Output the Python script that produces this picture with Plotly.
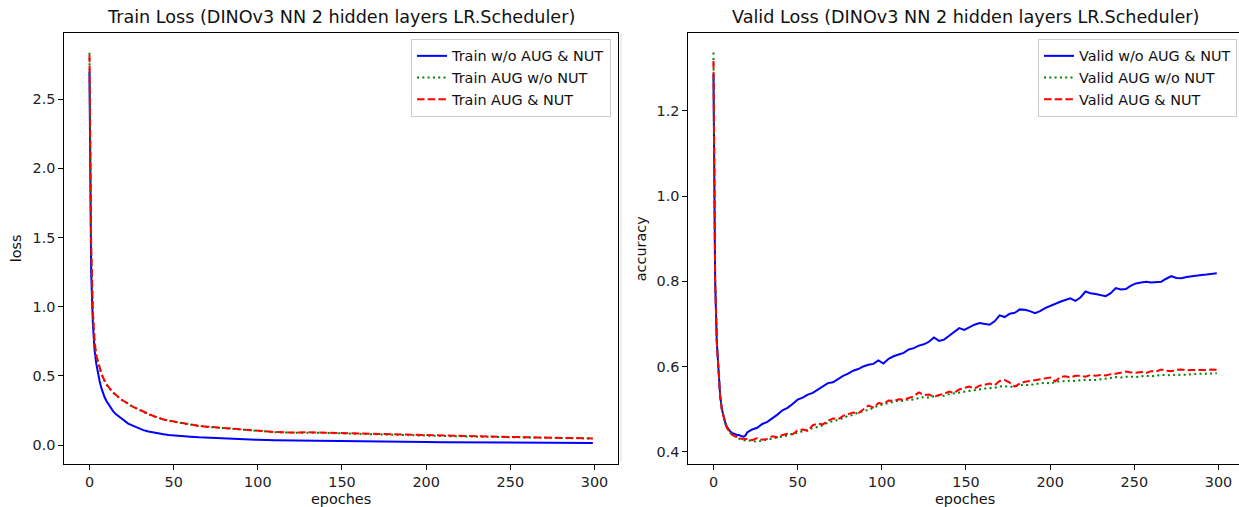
import plotly.graph_objects as go

# ---------------- data ----------------
train_epochs = [0, 1, 2, 3, 4, 5, 6, 7, 8, 9, 10,
                12, 14, 16, 18, 20,
                23, 26, 29, 32, 35, 38, 41, 44, 47, 50,
                55, 60, 65, 70, 75, 80, 85, 90, 95, 100,
                110, 120, 130, 140, 150, 160, 170, 180, 190, 200,
                210, 220, 230, 240, 250, 260, 270, 280, 290, 299]

train_noaug = [2.70, 1.25, 0.88, 0.69, 0.59, 0.52, 0.465, 0.415, 0.375, 0.345, 0.32,
               0.278, 0.245, 0.22, 0.20, 0.18,
               0.155, 0.138, 0.122, 0.108, 0.098, 0.090, 0.084, 0.078, 0.073, 0.069,
               0.064, 0.060, 0.056, 0.053, 0.050, 0.047, 0.045, 0.042, 0.040, 0.038,
               0.035, 0.033, 0.031, 0.029, 0.028, 0.026, 0.025, 0.024, 0.023, 0.022,
               0.021, 0.020, 0.019, 0.018, 0.018, 0.017, 0.016, 0.016, 0.015, 0.015]

train_aug_nonut = [2.836, 1.44, 0.96, 0.755, 0.648, 0.598, 0.558, 0.518, 0.488, 0.462, 0.438,
                   0.408, 0.378, 0.357, 0.338, 0.318,
                   0.298, 0.273, 0.258, 0.238, 0.223, 0.208, 0.194, 0.184, 0.176, 0.168,
                   0.158, 0.148, 0.137, 0.131, 0.127, 0.122, 0.116, 0.109, 0.103, 0.099,
                   0.093, 0.089, 0.091, 0.088, 0.084, 0.080, 0.077, 0.074, 0.071, 0.068,
                   0.065, 0.063, 0.061, 0.059, 0.057, 0.055, 0.053, 0.051, 0.049, 0.047]

train_aug_nut = [2.82, 1.45, 0.97, 0.76, 0.65, 0.60, 0.56, 0.52, 0.49, 0.465, 0.44,
                 0.41, 0.38, 0.36, 0.34, 0.32,
                 0.30, 0.275, 0.26, 0.24, 0.225, 0.21, 0.195, 0.185, 0.177, 0.170,
                 0.160, 0.150, 0.138, 0.133, 0.128, 0.124, 0.118, 0.110, 0.104, 0.100,
                 0.094, 0.090, 0.093, 0.089, 0.086, 0.081, 0.078, 0.075, 0.072, 0.069,
                 0.066, 0.064, 0.062, 0.060, 0.058, 0.056, 0.054, 0.052, 0.050, 0.048]

valid_epochs = list(range(0, 21)) + list(range(23, 300, 3))

valid_noaug = [1.286, 0.80, 0.655, 0.575, 0.530, 0.500, 0.482, 0.468, 0.458, 0.452, 0.447,
               0.444, 0.442, 0.440, 0.439, 0.439, 0.437, 0.436, 0.435, 0.438, 0.445,
               0.452, 0.456, 0.465, 0.470, 0.478, 0.487, 0.497, 0.503, 0.512, 0.522,
               0.527, 0.534, 0.538, 0.545, 0.553, 0.561, 0.563, 0.571, 0.578, 0.583,
               0.590, 0.594, 0.600, 0.604, 0.606, 0.614, 0.607, 0.618, 0.624, 0.628,
               0.632, 0.640, 0.643, 0.649, 0.652, 0.658, 0.668, 0.660, 0.663, 0.672,
               0.680, 0.690, 0.686, 0.692, 0.698, 0.702, 0.700, 0.698, 0.706, 0.720,
               0.716, 0.724, 0.726, 0.734, 0.733, 0.730, 0.725, 0.730, 0.737, 0.742,
               0.748, 0.752, 0.756, 0.760, 0.754, 0.762, 0.776, 0.772, 0.770, 0.768,
               0.765, 0.772, 0.784, 0.781, 0.782, 0.790, 0.795, 0.797, 0.799, 0.797,
               0.798, 0.799, 0.806, 0.812, 0.808, 0.807, 0.810, 0.812, 0.814, 0.815,
               0.816, 0.818, 0.819]

valid_aug_nonut = [1.337, 0.81, 0.66, 0.578, 0.530, 0.499, 0.481, 0.467, 0.456, 0.449, 0.444,
                   0.440, 0.437, 0.435, 0.433, 0.431, 0.430, 0.428, 0.428, 0.426, 0.427,
                   0.425, 0.423, 0.426, 0.428, 0.430, 0.433, 0.436, 0.438, 0.442, 0.444,
                   0.448, 0.452, 0.455, 0.458, 0.462, 0.468, 0.472, 0.474, 0.480, 0.484,
                   0.486, 0.492, 0.495, 0.498, 0.503, 0.508, 0.511, 0.514, 0.518, 0.520,
                   0.519, 0.523, 0.522, 0.526, 0.528, 0.527, 0.530, 0.532, 0.531, 0.535,
                   0.537, 0.539, 0.540, 0.543, 0.545, 0.546, 0.548, 0.549, 0.550, 0.553,
                   0.554, 0.552, 0.553, 0.556, 0.557, 0.556, 0.559, 0.560, 0.562, 0.560,
                   0.563, 0.566, 0.565, 0.567, 0.566, 0.567, 0.569, 0.568, 0.568, 0.570,
                   0.572, 0.574, 0.575, 0.574, 0.576, 0.576, 0.575, 0.577, 0.578, 0.577,
                   0.579, 0.580, 0.580, 0.579, 0.581, 0.580, 0.581, 0.582, 0.582, 0.583,
                   0.583, 0.584, 0.584]

valid_aug_nut = [1.317, 0.80, 0.655, 0.575, 0.528, 0.498, 0.480, 0.466, 0.456, 0.449, 0.444,
                 0.440, 0.437, 0.436, 0.434, 0.433, 0.432, 0.430, 0.431, 0.429, 0.430,
                 0.427, 0.432, 0.428, 0.430, 0.436, 0.434, 0.439, 0.442, 0.441, 0.450,
                 0.452, 0.449, 0.462, 0.466, 0.464, 0.472, 0.478, 0.476, 0.484, 0.488,
                 0.492, 0.490, 0.500, 0.508, 0.504, 0.514, 0.512, 0.520, 0.519, 0.523,
                 0.522, 0.526, 0.530, 0.539, 0.533, 0.534, 0.529, 0.533, 0.536, 0.541,
                 0.538, 0.546, 0.550, 0.553, 0.548, 0.555, 0.557, 0.560, 0.556, 0.566,
                 0.568, 0.562, 0.553, 0.560, 0.564, 0.566, 0.568, 0.570, 0.572, 0.574,
                 0.565, 0.575, 0.577, 0.574, 0.578, 0.578, 0.576, 0.580, 0.578, 0.580,
                 0.579, 0.582, 0.583, 0.586, 0.588, 0.586, 0.585, 0.587, 0.585, 0.589,
                 0.588, 0.593, 0.590, 0.589, 0.592, 0.593, 0.591, 0.592, 0.592, 0.591,
                 0.592, 0.593, 0.592]

left_ticks = [0.0, 0.5, 1.0, 1.5, 2.0, 2.5]
right_ticks = [0.4, 0.6, 0.8, 1.0, 1.2]
x_ticks = [0, 50, 100, 150, 200, 250, 300]

train_names = ["Train w/o AUG & NUT", "Train AUG w/o NUT", "Train AUG & NUT"]
valid_names = ["Valid w/o AUG & NUT", "Valid AUG w/o NUT", "Valid AUG & NUT"]
titles = ["Train Loss (DINOv3 NN 2 hidden layers LR.Scheduler)",
          "Valid Loss (DINOv3 NN 2 hidden layers LR.Scheduler)"]

# ---------------- layout geometry (pixels) ----------------
W, H = 1239, 507
FONT = "DejaVu Sans"
L1, R1 = 64.3, 618.0
L2, R2 = 688.3, 1239.0
TOP, BOT = 33.0, 464.0
TICK_FS = 14.4
TITLE_FS = 17.6


def px(x):
    return x / W


def py(y):
    return (H - y) / H


styles = [dict(color="#0000ff", width=2, dash="solid"),
          dict(color="#008000", width=2, dash="2px,3.3px"),
          dict(color="#ff0000", width=2, dash="7.5px,3.2px")]

fig = go.Figure()
for i, (name, ys) in enumerate(zip(train_names, [train_noaug, train_aug_nonut, train_aug_nut])):
    fig.add_trace(go.Scatter(x=train_epochs, y=ys, mode="lines", name=name,
                             line=styles[i], xaxis="x", yaxis="y",
                             legend="legend", legendgroup="t%d" % i))
for i, (name, ys) in enumerate(zip(valid_names, [valid_noaug, valid_aug_nonut, valid_aug_nut])):
    fig.add_trace(go.Scatter(x=valid_epochs, y=ys, mode="lines", name=name,
                             line=styles[i], xaxis="x2", yaxis="y2",
                             legend="legend2", legendgroup="v%d" % i))

axis_common = dict(showline=True, linecolor="black", linewidth=1, mirror=True,
                   ticks="outside", ticklen=5, tickwidth=1, tickcolor="black",
                   showgrid=False, zeroline=False,
                   tickfont=dict(family=FONT, size=TICK_FS, color="#222222"))

legend_common = dict(bgcolor="rgba(255,255,255,0.8)", bordercolor="#cccccc", borderwidth=1,
                     font=dict(family=FONT, size=TICK_FS, color="#111111"),
                     xanchor="right", yanchor="top", tracegroupgap=5,
                     traceorder="normal")

fig.update_layout(
    width=W, height=H, margin=dict(l=0, r=0, t=0, b=0),
    paper_bgcolor="white", plot_bgcolor="white",
    font=dict(family=FONT, size=TICK_FS, color="#111111"),
    xaxis=dict(domain=[px(L1), px(R1)], range=[-14.95, 313.95], tickvals=x_ticks,
               anchor="y", **axis_common),
    yaxis=dict(domain=[py(BOT), py(TOP)], range=[-0.137, 2.978], tickvals=left_ticks,
               ticktext=["%.1f" % t for t in left_ticks], anchor="x", **axis_common),
    xaxis2=dict(domain=[px(L2), px(R2)], range=[-14.95, 312.2], tickvals=x_ticks,
                anchor="y2", **axis_common),
    yaxis2=dict(domain=[py(BOT), py(TOP)], range=[0.371, 1.383], tickvals=right_ticks,
                ticktext=["%.1f" % t for t in right_ticks], anchor="x2", **axis_common),
    legend=dict(x=px(611), y=py(39), **legend_common),
    legend2=dict(x=px(1237), y=py(39), **legend_common),
    showlegend=True,
)

ann = []
for cx, t in [((L1 + R1) / 2, titles[0]), ((L2 + 1242) / 2, titles[1])]:
    ann.append(dict(x=px(cx), y=py(29), xref="paper", yref="paper", text=t,
                    showarrow=False, xanchor="center", yanchor="bottom",
                    font=dict(family=FONT, size=TITLE_FS, color="#111111")))
for cx in [(L1 + R1) / 2, (L2 + 1242) / 2]:
    ann.append(dict(x=px(cx), y=py(499), xref="paper", yref="paper", text="epoches",
                    showarrow=False, xanchor="center", yanchor="middle",
                    font=dict(family=FONT, size=TICK_FS, color="#111111")))
for cx, t in [(16.7, "loss"), (641.7, "accuracy")]:
    ann.append(dict(x=px(cx), y=py((TOP + BOT) / 2), xref="paper", yref="paper", text=t,
                    showarrow=False, xanchor="center", yanchor="middle", textangle=-90,
                    font=dict(family=FONT, size=TICK_FS, color="#111111")))
fig.update_layout(annotations=ann)

fig.add_shape(type="line", xref="paper", yref="paper",
              x0=px(621), x1=px(621), y0=py(33), y1=py(462),
              line=dict(color="#dedede", width=1))

fig.write_html("out.html", config={"displayModeBar": False},
               post_script="document.body.style.margin='0';document.body.style.overflow='hidden';")
